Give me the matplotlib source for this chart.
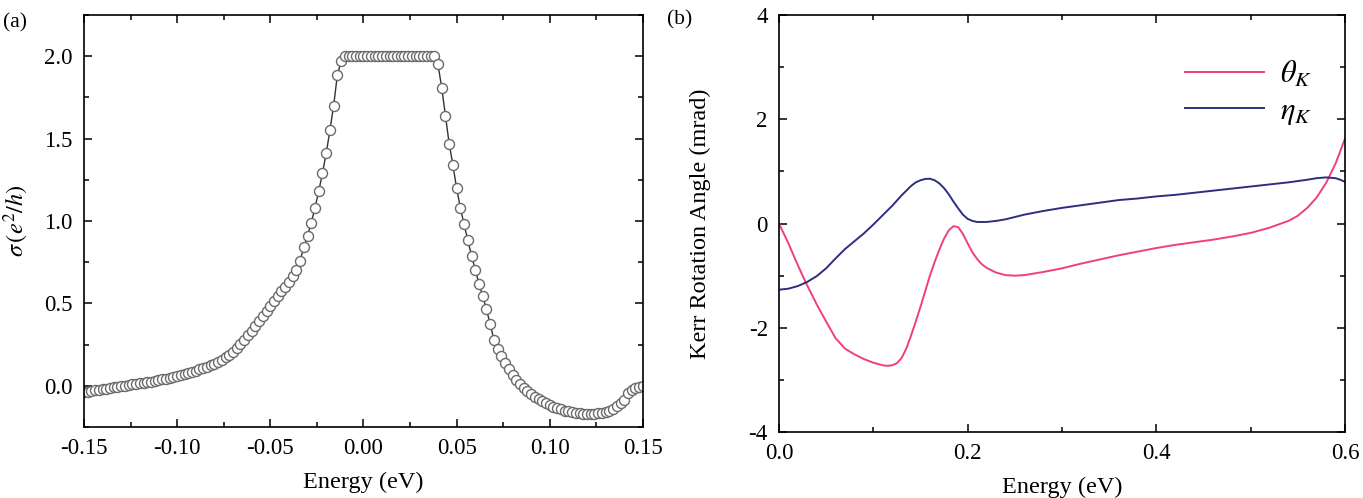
"""Two-panel figure: (a) Hall conductivity vs energy, (b) Kerr rotation/ellipticity."""
import matplotlib
matplotlib.use("Agg")
import matplotlib.pyplot as plt
import numpy as np
from matplotlib.ticker import MultipleLocator

plt.rcParams["font.family"] = ["Liberation Serif", "DejaVu Serif"]
plt.rcParams["mathtext.fontset"] = "stix"
plt.rcParams["axes.unicode_minus"] = False

# ---- panel (a): sigma on an even energy grid, -0.15 .. 0.15 eV ----
E_MIN, E_MAX = -0.15, 0.15
sigma_left = [
    -0.040, -0.036, -0.032, -0.028, -0.024, -0.021, -0.017, -0.013, -0.010, -0.006,
    -0.003, 0.001, 0.004, 0.009, 0.012, 0.016, 0.019, 0.022, 0.026, 0.030,
    0.034, 0.039, 0.043, 0.048, 0.054, 0.060, 0.066, 0.072, 0.078, 0.085,
    0.092, 0.099, 0.107, 0.115, 0.124, 0.134, 0.145, 0.158, 0.172, 0.188,
    0.206, 0.228, 0.252, 0.278, 0.306, 0.335, 0.364, 0.393, 0.422, 0.452,
    0.484, 0.516, 0.547, 0.574, 0.600, 0.628, 0.664, 0.700, 0.760, 0.840,
    0.910, 0.990, 1.080, 1.180, 1.290, 1.410, 1.550, 1.700, 1.885, 1.970,
]
sigma_plateau = [2.0] * 25
sigma_right = [
    1.950, 1.810, 1.640, 1.470, 1.340, 1.200, 1.080, 0.980, 0.885, 0.790,
    0.705, 0.620, 0.545, 0.465, 0.375, 0.280, 0.225, 0.180, 0.140, 0.100,
    0.065, 0.035, 0.010, -0.012, -0.032, -0.050, -0.066, -0.080, -0.093, -0.105,
    -0.116, -0.126, -0.135, -0.143, -0.150, -0.156, -0.161, -0.165, -0.168, -0.170,
    -0.171, -0.171, -0.170, -0.167, -0.163, -0.157, -0.150, -0.140, -0.125, -0.105,
    -0.085, -0.045, -0.025, -0.015, -0.008, -0.002,
]
sigma = np.array(sigma_left + sigma_plateau + sigma_right)
energy_a = np.linspace(E_MIN, E_MAX, len(sigma))

# ---- panel (b): Kerr angles (mrad) ----
e_theta = [0.0, 0.01, 0.02, 0.03, 0.04, 0.05, 0.06, 0.07, 0.08, 0.09, 0.10, 0.11,
           0.115, 0.12, 0.125, 0.13, 0.135, 0.14, 0.145, 0.15, 0.155, 0.16, 0.165,
           0.17, 0.175, 0.18, 0.185, 0.19, 0.195, 0.20, 0.205, 0.21, 0.215, 0.22,
           0.23, 0.24, 0.25, 0.26, 0.28, 0.30, 0.32, 0.34, 0.36, 0.38, 0.40, 0.42,
           0.44, 0.46, 0.48, 0.50, 0.52, 0.54, 0.55, 0.56, 0.57, 0.58, 0.59, 0.60]
theta_k = [0.0, -0.38, -0.80, -1.19, -1.55, -1.88, -2.20, -2.40, -2.51, -2.60, -2.67,
           -2.72, -2.73, -2.72, -2.68, -2.58, -2.40, -2.15, -1.88, -1.60, -1.30, -1.00,
           -0.74, -0.50, -0.29, -0.13, -0.05, -0.07, -0.20, -0.38, -0.55, -0.68, -0.78,
           -0.85, -0.94, -0.99, -1.00, -0.99, -0.93, -0.86, -0.77, -0.69, -0.61, -0.54,
           -0.47, -0.41, -0.36, -0.31, -0.25, -0.18, -0.08, 0.05, 0.15, 0.30, 0.50,
           0.78, 1.15, 1.63]
e_eta = [0.0, 0.01, 0.02, 0.03, 0.04, 0.05, 0.06, 0.07, 0.08, 0.09, 0.10, 0.11, 0.12,
         0.13, 0.135, 0.14, 0.145, 0.15, 0.155, 0.16, 0.165, 0.17, 0.175, 0.18, 0.185,
         0.19, 0.195, 0.20, 0.205, 0.21, 0.22, 0.23, 0.24, 0.26, 0.28, 0.30, 0.32,
         0.34, 0.36, 0.38, 0.40, 0.42, 0.44, 0.46, 0.48, 0.50, 0.52, 0.54, 0.56,
         0.57, 0.58, 0.59, 0.595, 0.60]
eta_k = [-1.27, -1.25, -1.20, -1.12, -1.01, -0.86, -0.67, -0.49, -0.34, -0.19, -0.02,
         0.16, 0.34, 0.54, 0.63, 0.72, 0.79, 0.83, 0.855, 0.86, 0.83, 0.77, 0.68, 0.56,
         0.42, 0.29, 0.17, 0.09, 0.05, 0.03, 0.03, 0.05, 0.08, 0.17, 0.24, 0.30, 0.35,
         0.40, 0.45, 0.48, 0.52, 0.55, 0.59, 0.63, 0.67, 0.71, 0.75, 0.79, 0.84, 0.87,
         0.885, 0.87, 0.84, 0.80]

TICK_FS = 16.5
LABEL_FS = 17.5


def style(ax):
    for s in ax.spines.values():
        s.set_linewidth(1.2)
    ax.tick_params(which="both", direction="in", top=True, right=True,
                   labelsize=TICK_FS, width=1.1, pad=8)
    ax.tick_params(which="major", length=6)
    ax.tick_params(which="minor", length=3.5)


fig = plt.figure(figsize=(13.63, 4.98), dpi=100)

ax1 = fig.add_axes([0.0616, 0.1426, 0.4101, 0.8273])
ax1.plot(energy_a, sigma, color="#333333", lw=1.0, marker="o", ms=7.2,
         mfc="white", mec="#6a6a6a", mew=1.0)
ax1.set_xlim(E_MIN, E_MAX)
ax1.set_ylim(-0.25, 2.25)
ax1.xaxis.set_major_locator(MultipleLocator(0.05))
ax1.xaxis.set_minor_locator(MultipleLocator(0.025))
ax1.yaxis.set_major_locator(MultipleLocator(0.5))
ax1.yaxis.set_minor_locator(MultipleLocator(0.25))
ax1.xaxis.set_major_formatter(lambda v, p: f"{v:.2f}")
ax1.yaxis.set_major_formatter(lambda v, p: f"{v:.1f}")
style(ax1)
ax1.set_xlabel("Energy (eV)", fontsize=LABEL_FS, labelpad=9)
ax1.set_ylabel(r"$\sigma\,(e^2/h)$", fontsize=LABEL_FS)
ax1.yaxis.set_label_coords(-0.095, 0.5)

ax2 = fig.add_axes([0.5715, 0.1325, 0.4153, 0.8373])
ax2.plot(e_theta, theta_k, color="#f0407a", lw=1.4, label=r"$\theta_K$")
ax2.plot(e_eta, eta_k, color="#2e2e80", lw=1.4, label=r"$\eta_K$")
ax2.set_xlim(0, 0.6)
ax2.set_ylim(-4, 4)
ax2.xaxis.set_major_locator(MultipleLocator(0.2))
ax2.xaxis.set_minor_locator(MultipleLocator(0.1))
ax2.yaxis.set_major_locator(MultipleLocator(2))
ax2.yaxis.set_minor_locator(MultipleLocator(1))
ax2.xaxis.set_major_formatter(lambda v, p: f"{v:.1f}")
ax2.yaxis.set_major_formatter(lambda v, p: f"{v:.0f}")
style(ax2)
ax2.set_xlabel("Energy (eV)", fontsize=LABEL_FS, labelpad=9)
ax2.set_ylabel("Kerr Rotation Angle (mrad)", fontsize=LABEL_FS)
ax2.yaxis.set_label_coords(-0.12, 0.5)
ax2.legend(loc="upper right", bbox_to_anchor=(0.99, 0.96), frameon=False,
           fontsize=22, handlelength=2.6, labelspacing=0.25, handletextpad=0.5)

fig.text(0.002, 0.945, "(a)", fontsize=15.5)
fig.text(0.489, 0.95, "(b)", fontsize=15.5)

fig.savefig("out.png", dpi=100)
